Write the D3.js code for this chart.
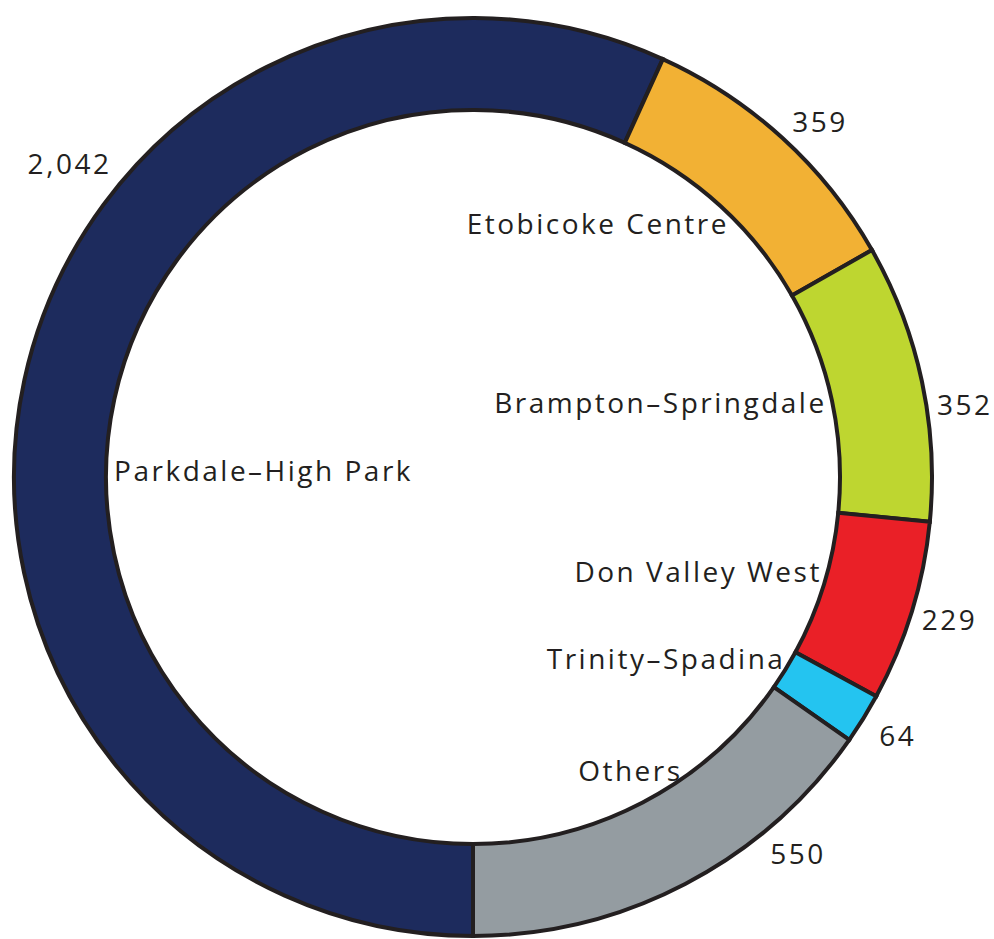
<!DOCTYPE html>
<html>
<head>
<meta charset="utf-8">
<script src="https://cdn.jsdelivr.net/npm/d3@7"></script>
<style>
  body { margin: 0; background: #fff; }
  svg text { font-family: "Open Sans", "Noto Sans", sans-serif; fill: #231f20; letter-spacing: 2.5px; }
</style>
</head>
<body>
<svg id="chart"></svg>
<script>
// Ridings and vote counts, in drawing order (clockwise from 6 o'clock).
const ridings = ['Parkdale–High Park', 'Etobicoke Centre', 'Brampton–Springdale', 'Don Valley West', 'Trinity–Spadina', 'Others'];
const votes = [2042, 359, 352, 229, 64, 550];
const sliceColors = ['#1d2b5d', '#f2b134', '#bed630', '#ea2027', '#24c4f0', '#949ca1'];

const width = 994, height = 939;
const cx = 473, cy = 477;
const outerR = 459, innerR = 367;
const valueR = 496, nameR = innerR - 8;

// Label placement along each slice (0 = slice start, 1 = slice end).
const valuePos = { 'Parkdale–High Park': 0.625, 'Etobicoke Centre': 0.55, 'Brampton–Springdale': 0.6,
  'Don Valley West': 0.48, 'Trinity–Spadina': 0.44, 'Others': 0.26 };
const valueRadius = { 'Parkdale–High Park': 512 };
const namePos = { 'Parkdale–High Park': 0.446, 'Etobicoke Centre': 0.57, 'Brampton–Springdale': 0.5,
  'Don Valley West': 0.42, 'Trinity–Spadina': 0.28, 'Others': 0.36 };

const data = ridings.map((name, i) => ({ name, value: votes[i], color: sliceColors[i] }));

const svg = d3.select('#chart')
  .attr('width', width)
  .attr('height', height);

const g = svg.append('g').attr('transform', `translate(${cx},${cy})`);

const pie = d3.pie()
  .value(d => d.value)
  .sort(null)
  .startAngle(Math.PI)
  .endAngle(3 * Math.PI);

const arcs = pie(data);

const arc = d3.arc()
  .innerRadius(innerR)
  .outerRadius(outerR);

g.selectAll('path.slice')
  .data(arcs)
  .enter()
  .append('path')
  .attr('class', 'slice')
  .attr('d', arc)
  .attr('fill', d => d.data.color)
  .attr('stroke', '#231f20')
  .attr('stroke-width', 4)
  .attr('stroke-linejoin', 'miter');

// fraction along slice -> point at radius r (d3 angles: 0 at top, clockwise)
const pointAt = (d, frac, r) => {
  const a = d.startAngle + (d.endAngle - d.startAngle) * frac;
  return [r * Math.sin(a), -r * Math.cos(a)];
};

const fmt = d3.format(',');

// value labels outside the ring
g.selectAll('text.value')
  .data(arcs)
  .enter()
  .append('text')
  .attr('class', 'value')
  .attr('transform', d => {
    const p = pointAt(d, valuePos[d.data.name] ?? 0.5, valueRadius[d.data.name] ?? valueR);
    return `translate(${p[0] + 1.25},${p[1]})`;
  })
  .attr('text-anchor', 'middle')
  .attr('dominant-baseline', 'central')
  .style('font-size', '28px')
  .text(d => fmt(d.data.value));

// riding names inside the ring
g.selectAll('text.name')
  .data(arcs)
  .enter()
  .append('text')
  .attr('class', 'name')
  .each(function (d) {
    const p = pointAt(d, namePos[d.data.name] ?? 0.5, nameR);
    const left = p[0] < 0;
    d3.select(this)
      .attr('transform', `translate(${left ? p[0] : p[0] + 2.5},${p[1]})`)
      .attr('text-anchor', left ? 'start' : 'end');
  })
  .attr('dominant-baseline', 'central')
  .style('font-size', '28px')
  .text(d => d.data.name);
</script>
</body>
</html>
